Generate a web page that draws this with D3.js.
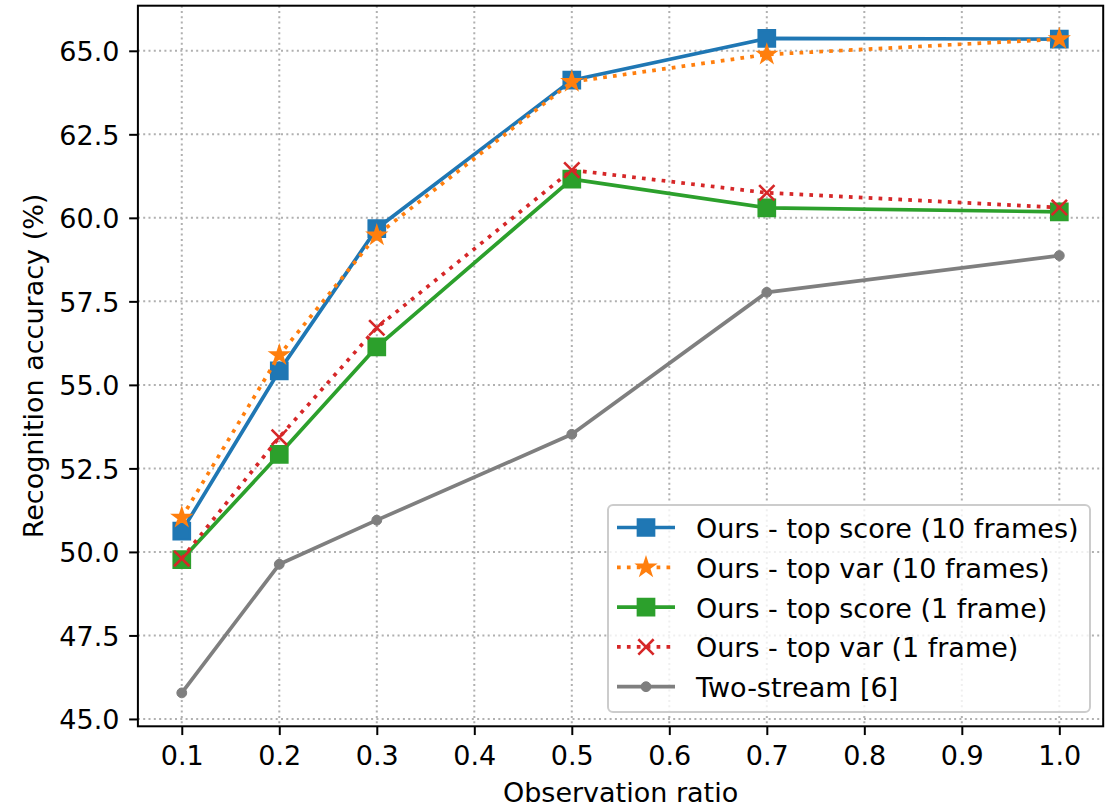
<!DOCTYPE html>
<html><head><meta charset="utf-8">
<script src="https://cdn.jsdelivr.net/npm/d3@7"></script>
<style>
html,body{margin:0;padding:0;background:#fff;}
text{font-family:"DejaVu Sans",sans-serif;fill:#000;}
</style></head>
<body>
<svg id="chart" width="1113" height="807"></svg>
<script>
const ratios = [0.1, 0.2, 0.3, 0.5, 0.7, 1.0];
const topScore10 = [50.62, 55.42, 59.68, 64.12, 65.37, 65.35];
const topVar10 = [51.03, 55.89, 59.48, 64.07, 64.89, 65.35];
const topScore1 = [49.77, 52.92, 56.14, 61.16, 60.30, 60.18];
const topVar1 = [49.80, 53.43, 56.71, 61.43, 60.75, 60.31];
const twoStream = [45.78, 49.63, 50.95, 53.52, 57.77, 58.87];
const seriesNames = ["Ours - top score (10 frames)", "Ours - top var (10 frames)", "Ours - top score (1 frame)", "Ours - top var (1 frame)", "Two-stream [6]"];
const xTicks = [0.1,0.2,0.3,0.4,0.5,0.6,0.7,0.8,0.9,1.0];
const yTicks = [45.0,47.5,50.0,52.5,55.0,57.5,60.0,62.5,65.0];
const xLabel = "Observation ratio";
const yLabel = "Recognition accuracy (%)";

const series = [
  {name: seriesNames[0], values: topScore10, color: "#1f77b4", dash: null, marker: "square"},
  {name: seriesNames[1], values: topVar10, color: "#ff7f0e", dash: "3.7,6.2", marker: "star"},
  {name: seriesNames[2], values: topScore1, color: "#2ca02c", dash: null, marker: "square"},
  {name: seriesNames[3], values: topVar1, color: "#d62728", dash: "3.7,6.2", marker: "x"},
  {name: seriesNames[4], values: twoStream, color: "#7f7f7f", dash: null, marker: "circle"}
];

const L = 137.9, R = 1103.2, T = 5.7, B = 726.3;
const x = d3.scaleLinear().domain([0.055, 1.045]).range([L, R]);
const y = d3.scaleLinear().domain([44.78, 66.35]).range([B, T]);
const svg = d3.select("#chart");
const FS = 27;

// grid
const grid = svg.append("g");
grid.selectAll("line.vx").data(xTicks).enter().append("line")
  .attr("x1", d => x(d)).attr("x2", d => x(d)).attr("y1", T).attr("y2", B)
  .attr("stroke", "#b0b0b0").attr("stroke-width", 2).attr("stroke-dasharray", "2,3.3");
grid.selectAll("line.hy").data(yTicks).enter().append("line")
  .attr("y1", d => y(d)).attr("y2", d => y(d)).attr("x1", L).attr("x2", R)
  .attr("stroke", "#b0b0b0").attr("stroke-width", 2).attr("stroke-dasharray", "2,3.3");

function markerPath(type) {
  if (type === "square") return d3.symbol().type(d3.symbolSquare).size(16.5*16.5)();
  if (type === "star") return d3.symbol().type(d3.symbolStar).size(85)();
  if (type === "x") return d3.symbol().type(d3.symbolTimes).size(155)();
  return d3.symbol().type(d3.symbolCircle).size(76)();
}
function drawMarker(g, type, color, cx, cy) {
  const p = g.append("path").attr("d", markerPath(type)).attr("transform", `translate(${cx},${cy})`);
  if (type === "x") p.attr("fill", "none").attr("stroke", color).attr("stroke-width", 2.6);
  else p.attr("fill", color).attr("stroke", color).attr("stroke-width", type === "circle" ? 1 : 2.2).attr("stroke-linejoin", "miter");
}

const line = d3.line().x(d => x(d[0])).y(d => y(d[1]));
const plot = svg.append("g");
series.forEach(s => {
  const g = plot.append("g");
  const pts = ratios.map((r, i) => [r, s.values[i]]);
  g.append("path").attr("d", line(pts)).attr("fill", "none")
    .attr("stroke", s.color).attr("stroke-width", 3.7)
    .attr("stroke-dasharray", s.dash).attr("stroke-linejoin", "round").attr("stroke-linecap", s.dash ? "butt" : "square");
  pts.forEach(p => drawMarker(g, s.marker, s.color, x(p[0]), y(p[1])));
});

// spines
svg.append("rect").attr("x", L).attr("y", T).attr("width", R - L).attr("height", B - T)
  .attr("fill", "none").attr("stroke", "#000").attr("stroke-width", 2);

// axes
const xAxis = svg.append("g").attr("transform", `translate(0,${B})`)
  .call(d3.axisBottom(x).tickValues(xTicks).tickFormat(d3.format(".1f")).tickSize(8.75).tickPadding(10));
const yAxis = svg.append("g").attr("transform", `translate(${L},0)`)
  .call(d3.axisLeft(y).tickValues(yTicks).tickFormat(d3.format(".1f")).tickSize(8.75).tickPadding(10));
[xAxis, yAxis].forEach(a => {
  a.select(".domain").remove();
  a.selectAll(".tick line").attr("stroke", "#000").attr("stroke-width", 2);
  a.selectAll(".tick text").attr("font-size", FS).attr("font-family", "DejaVu Sans").attr("fill", "#000");
});
xAxis.selectAll(".tick text").attr("dy", null).attr("y", 39);
yAxis.selectAll(".tick text").attr("dy", "0.36em").attr("x", -18.5);

svg.append("text").attr("x", (L + R) / 2).attr("y", 801.5).attr("text-anchor", "middle")
  .attr("font-size", FS).text(xLabel);
svg.append("text").attr("transform", `translate(43,${(T + B) / 2}) rotate(-90)`).attr("text-anchor", "middle")
  .attr("font-size", FS).text(yLabel);

// legend
const lg = svg.append("g");
lg.append("rect").attr("x", 608).attr("y", 505).attr("width", 482).attr("height", 207).attr("rx", 5)
  .attr("fill", "#fff").attr("fill-opacity", 0.8).attr("stroke", "#cccccc").attr("stroke-width", 2);
series.forEach((s, i) => {
  const cy = 527.5 + i * 39.8;
  lg.append("line").attr("x1", 617).attr("x2", 675).attr("y1", cy).attr("y2", cy)
    .attr("stroke", s.color).attr("stroke-width", 3.7).attr("stroke-dasharray", s.dash);
  drawMarker(lg, s.marker, s.color, 646, cy);
  lg.append("text").attr("x", 696).attr("y", cy + 10.5).attr("font-size", FS).text(s.name);
});
</script>
</body></html>
